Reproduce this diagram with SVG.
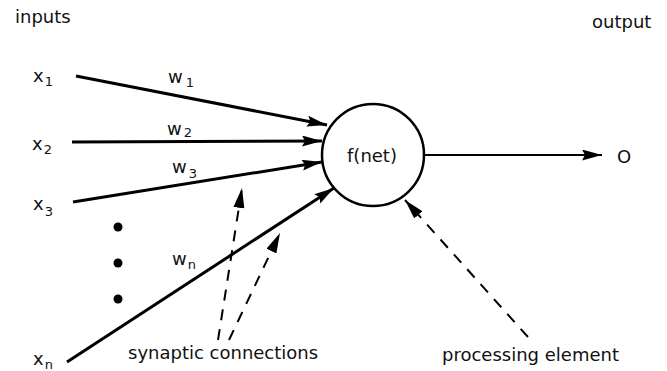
<svg xmlns="http://www.w3.org/2000/svg" width="667" height="371" viewBox="0 0 667 371">
<style>
text{font-family:"DejaVu Sans","Liberation Sans",sans-serif;fill:#111;font-size:18px}
.sub{font-size:13px}
.in{stroke:#000;stroke-width:3;fill:none}
.out{stroke:#000;stroke-width:2;fill:none}
.dash{stroke:#000;stroke-width:2;fill:none;stroke-dasharray:11 9}
</style>
<defs>
<marker id="ah" markerUnits="userSpaceOnUse" markerWidth="22" markerHeight="12" refX="20" refY="5.5" orient="auto">
<path d="M0,0 L20,5.5 L0,11 L3,5.5 z" fill="#000"/>
</marker>
<marker id="dh" markerUnits="userSpaceOnUse" markerWidth="22" markerHeight="12" refX="20" refY="5.5" orient="auto">
<path d="M0,0 L20,5.5 L0,11 z" fill="#000"/>
</marker>
</defs>
<rect width="667" height="371" fill="#fff"/>
<text x="15" y="23">inputs</text>
<text x="592" y="28">output</text>
<g id="x1"><text x="33" y="82">x<tspan class="sub" dx="1" dy="4">1</tspan></text></g>
<g id="x2"><text x="32" y="150">x<tspan class="sub" dx="1" dy="4">2</tspan></text></g>
<g id="x3"><text x="33" y="210">x<tspan class="sub" dx="1" dy="6">3</tspan></text></g>
<g id="xn"><text x="33" y="365">x<tspan class="sub" dx="1" dy="4">n</tspan></text></g>
<g id="dots" fill="#000"><circle cx="118" cy="227" r="4.5"/><circle cx="118" cy="263" r="4.5"/><circle cx="118" cy="299" r="4.5"/></g>
<g id="neuron"><circle cx="373" cy="155" r="51" fill="#fff" stroke="#000" stroke-width="2.5"/><text x="372" y="162" text-anchor="middle">f(net)</text></g>
<g id="o"><text x="617" y="163">O</text></g>
<g id="connectors">
<line class="in" x1="76" y1="76" x2="327" y2="125" marker-end="url(#ah)"/>
<line class="in" x1="72" y1="142" x2="322" y2="141" marker-end="url(#ah)"/>
<line class="in" x1="73" y1="202" x2="322" y2="162" marker-end="url(#ah)"/>
<line class="in" x1="67" y1="362" x2="334" y2="188" marker-end="url(#ah)"/>
<line class="out" x1="424" y1="155" x2="602" y2="155" marker-end="url(#ah)"/>
<line class="dash" x1="218" y1="340" x2="242" y2="188" marker-end="url(#dh)"/>
<line class="dash" x1="229" y1="340" x2="280" y2="233" marker-end="url(#dh)"/>
<line class="dash" x1="528" y1="337" x2="405" y2="200" marker-end="url(#dh)"/>
</g>
<g id="weights">
<text x="168" y="83">w<tspan class="sub" dx="3" dy="4">1</tspan></text>
<text x="167" y="135">w<tspan class="sub" dx="2" dy="2">2</tspan></text>
<text x="172" y="173">w<tspan class="sub" dx="2" dy="5">3</tspan></text>
<text x="172" y="265">w<tspan class="sub" dx="1" dy="4">n</tspan></text>
</g>
<text x="128" y="359">synaptic connections</text>
<text x="442" y="361">processing element</text>
</svg>
